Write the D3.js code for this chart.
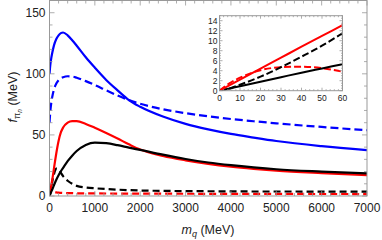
<!DOCTYPE html>
<html><head><meta charset="utf-8">
<script src="https://cdn.jsdelivr.net/npm/d3@7"></script>
<style>
html,body{margin:0;padding:0;background:#fff;}
svg{display:block;font-family:"Liberation Sans",Arial,sans-serif;}
</style></head>
<body>
<svg id="c" width="382" height="240"></svg>
<script>
// ---------- main-chart data (m_q in MeV, f in MeV) ----------
const xMain = [0,20,40,60,100,150,200,250,300,400,500,600,800,1000,1250,1500,1750,2000,2500,3000,3500,4000,4500,5000,6000,7000];
const blueSolid  = [100,108,113,117,123.5,128.5,131.5,133.3,133.8,131.5,127.5,123,113.5,105,95,86.5,78.5,73,65,59,54.5,50.8,47.8,45,40.8,37.5];
const blueDashed = [60,70,76.5,81,87.5,92,94.8,96.3,97.2,98,97.8,96.8,94,90.8,86.5,82.3,78.5,75.5,71,67.8,65.2,63,61.2,59.5,56.5,53.8];
const redSolid   = [0,4.4,8.8,13.1,23,35,45,52,56,60,61.3,61.3,59,55.8,51.5,47,42.3,38,32.8,29.2,26.3,24,22.2,20.7,18.7,17.1];
const blackSolid = [0,1.8,3.6,5.3,9,13.3,17,20.2,23,28.5,33,36.8,41.8,43.7,43.2,41.6,39.6,37.7,33.8,30.3,27.4,25.2,23.4,21.9,20,18.5];
const blackDashed= [0,2.8,6.8,11.5,18,22.4,21.8,19,16.2,12.5,10,8.3,7,6.3,5.7,5.2,4.8,4.5,4.2,4,3.9,3.8,3.7,3.7,3.6,3.5];
const redDashed  = [0,4.1,4.8,3.8,3.2,2.9,2.7,2.6,2.5,2.4,2.3,2.2,2.15,2.1,2.05,2,1.97,1.95,1.9,1.85,1.8,1.77,1.74,1.7,1.65,1.6];
const xTicks = [0,1000,2000,3000,4000,5000,6000,7000];
const yTicks = [0,50,100,150];

// ---------- inset data ----------
const xInset = [0,5,10,20,30,40,50,60];
const inRedSolid   = [0,1.1,2.2,4.4,6.6,8.8,10.95,13.1];
const inBlackSolid = [0,0.45,0.9,1.8,2.7,3.6,4.45,5.3];
const inBlackDashed= [0,0.45,1.2,2.8,4.7,6.8,9.0,11.5];
const inRedDashed  = [0,1.5,2.6,4.1,4.7,4.8,4.5,3.8];
const xTicksIn = [0,10,20,30,40,50,60];
const yTicksIn = [0,2,4,6,8,10,12,14];

const svg = d3.select("#c");
const frameCol = "#999", labCol = "#222";

function drawPanel(g, opt){
  const {x, y, xt, yt, xMinor, yMinor, majLen, minLen, fs, xLabDy, yLabDx} = opt;
  const [x0,x1] = x.range(), [y0,y1] = y.range();
  // ticks on all four sides, pointing inward
  const tk = g.append("g").attr("stroke",frameCol).attr("stroke-width",0.8);
  const xd = x.domain(), yd = y.domain();
  const xm = d3.range(xd[0], xd[1]+1e-9, xMinor), ym = d3.range(yd[0], yd[1]+1e-9, yMinor);
  xm.forEach(v=>{
    const L = xt.some(t=>Math.abs(t-v)<1e-9) ? majLen : minLen;
    tk.append("line").attr("x1",x(v)).attr("x2",x(v)).attr("y1",y0).attr("y2",y0-L);
    tk.append("line").attr("x1",x(v)).attr("x2",x(v)).attr("y1",y1).attr("y2",y1+L);
  });
  ym.forEach(v=>{
    const L = yt.some(t=>Math.abs(t-v)<1e-9) ? majLen : minLen;
    tk.append("line").attr("y1",y(v)).attr("y2",y(v)).attr("x1",x0).attr("x2",x0+L);
    tk.append("line").attr("y1",y(v)).attr("y2",y(v)).attr("x1",x1).attr("x2",x1-L);
  });
  g.append("rect").attr("x",x0).attr("y",y1).attr("width",x1-x0).attr("height",y0-y1)
    .attr("fill","none").attr("stroke",frameCol).attr("stroke-width",1);
  g.selectAll(".xl").data(xt).enter().append("text")
    .attr("x",d=>x(d)).attr("y",y0+xLabDy).attr("text-anchor","middle")
    .attr("font-size",fs).attr("fill",labCol).text(d=>d);
  g.selectAll(".yl").data(yt).enter().append("text")
    .attr("x",x0-yLabDx).attr("y",d=>y(d)).attr("dy","0.35em").attr("text-anchor","end")
    .attr("font-size",fs).attr("fill",labCol).text(d=>d);
}

// ---------- main panel ----------
const x = d3.scaleLinear().domain([0,7000]).range([49.5,367]);
const y = d3.scaleLinear().domain([0,160]).range([196,0.5]);
const gm = svg.append("g");
gm.append("clipPath").attr("id","clipM").append("rect")
  .attr("x",49.5).attr("y",0.5).attr("width",367-49.5).attr("height",196-0.5);

const line = d3.line().x(d=>x(d[0])).y(d=>y(d[1])).curve(d3.curveMonotoneX);
const series = [
  {v:blueDashed, c:"#0000ff", dash:"8,4"},
  {v:blueSolid,  c:"#0000ff", dash:null},
  {v:redDashed,  c:"#ff0000", dash:"7,4"},
  {v:blackDashed,c:"#000000", dash:"7,4"},
  {v:redSolid,   c:"#ff0000", dash:null},
  {v:blackSolid, c:"#000000", dash:null}
];
const cg = gm.append("g").attr("clip-path","url(#clipM)");
series.forEach(s=>{
  cg.append("path").attr("d",line(xMain.map((m,i)=>[m,s.v[i]])))
    .attr("fill","none").attr("stroke",s.c).attr("stroke-width",2.2)
    .attr("stroke-dasharray",s.dash);
});
drawPanel(gm,{x,y,xt:xTicks,yt:yTicks,xMinor:200,yMinor:10,majLen:5,minLen:3,fs:12,xLabDy:16,yLabDx:4});

// axis titles
const xt = gm.append("text").attr("x",208).attr("y",234).attr("text-anchor","middle")
  .attr("font-size",12.5).attr("fill",labCol);
xt.append("tspan").attr("font-style","italic").text("m");
xt.append("tspan").attr("font-style","italic").attr("font-size",9).attr("dy",3).text("q");
xt.append("tspan").attr("dy",-3).text(" (MeV)");

const yt = gm.append("text").attr("transform","translate(17,97) rotate(-90)")
  .attr("text-anchor","middle").attr("font-size",12.5).attr("fill",labCol);
yt.append("tspan").attr("font-style","italic").text("f");
yt.append("tspan").attr("font-size",9).attr("dy",3).text("π");
yt.append("tspan").attr("font-style","italic").attr("font-size",6.5).attr("dy",2).text("n");
yt.append("tspan").attr("dy",-5).text(" (MeV)");

// ---------- inset ----------
const xi = d3.scaleLinear().domain([0,60]).range([219.5,342.5]);
const yi = d3.scaleLinear().domain([0,15]).range([90.7,15.7]);
const gi = svg.append("g");
gi.append("rect").attr("x",219.5).attr("y",15.7).attr("width",123).attr("height",75).attr("fill","#fff");
gi.append("clipPath").attr("id","clipI").append("rect")
  .attr("x",219.5).attr("y",15.7).attr("width",123).attr("height",75);
const linei = d3.line().x(d=>xi(d[0])).y(d=>yi(d[1])).curve(d3.curveMonotoneX);
const inSeries = [
  {v:inRedDashed,  c:"#ff0000", dash:"7,3"},
  {v:inBlackDashed,c:"#000000", dash:"7,3"},
  {v:inBlackSolid, c:"#000000", dash:null},
  {v:inRedSolid,   c:"#ff0000", dash:null}
];
const ci = gi.append("g").attr("clip-path","url(#clipI)");
inSeries.forEach(s=>{
  ci.append("path").attr("d",linei(xInset.map((m,i)=>[m,s.v[i]])))
    .attr("fill","none").attr("stroke",s.c).attr("stroke-width",2)
    .attr("stroke-dasharray",s.dash);
});
drawPanel(gi,{x:xi,y:yi,xt:xTicksIn,yt:yTicksIn,xMinor:2,yMinor:0.5,majLen:3,minLen:1.5,fs:8.5,xLabDy:10,yLabDx:2});
</script>
</body></html>
